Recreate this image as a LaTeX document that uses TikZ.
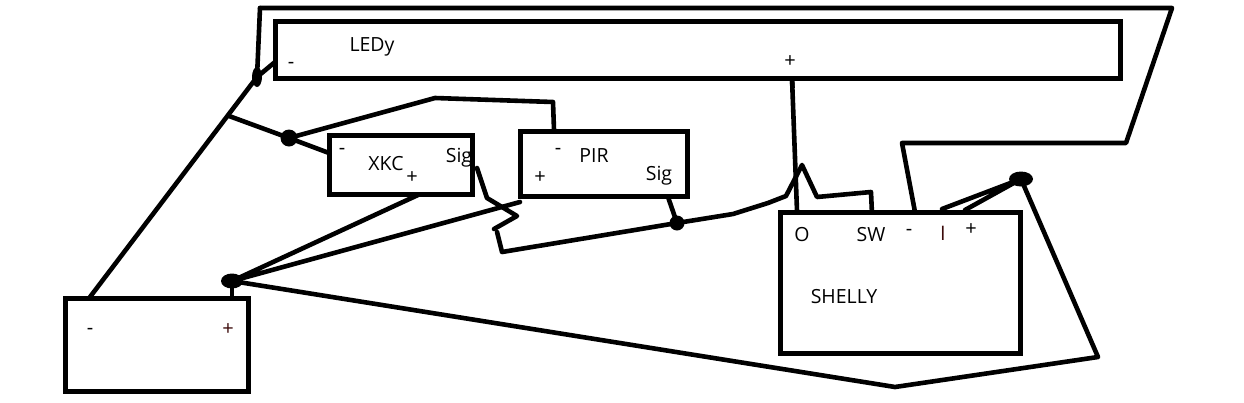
\documentclass[tikz,border=0pt]{standalone}
\usepackage{fontspec}
\setmainfont{Open Sans}
\usetikzlibrary{shapes.geometric}
\tikzset{
  x=1pt,y=-1pt,
  box/.style={draw=black,line width=5pt,fill=white,rectangle,inner sep=0pt,outer sep=0pt},
  wire/.style={draw=black,line width=4.6pt,line join=round,line cap=round},
  dotn/.style={circle,fill=black,inner sep=0pt,outer sep=0pt,minimum size=#1},
  blobn/.style={ellipse,fill=black,inner sep=0pt,outer sep=0pt,minimum width=#1,minimum height=15pt},
  lab/.style={inner sep=0pt,outer sep=0pt,text=black,font=\fontsize{19.5}{21}\selectfont},
  pin/.style={inner sep=0pt,outer sep=0pt,text=black,font=\fontsize{20}{21}\selectfont},
}
\definecolor{darkpin}{RGB}{60,10,10}
\begin{document}
\begin{tikzpicture}
\useasboundingbox (0,0) rectangle (1244,402);
% named routing points
\coordinate (a1) at (260,8);
\coordinate (a2) at (1172,8);
\coordinate (a3) at (1126,143);
\coordinate (a4) at (902,143);
\coordinate (a5) at (915,212);
\coordinate (b1) at (275,62);
\coordinate (b2) at (90,297);
\coordinate (c1) at (229,116);
\coordinate (d1) at (329,153);
\coordinate (d2) at (435,98);
\coordinate (d3) at (553,102);
\coordinate (d4) at (554,130);
\coordinate (e1) at (418,195);
\coordinate (e2) at (520,202);
\coordinate (e3) at (232,298);
\coordinate (f1) at (895,387);
\coordinate (f2) at (1098,357);
\coordinate (g1) at (942,209);
\coordinate (g2) at (965,210);
\coordinate (h1) at (477,168);
\coordinate (h2) at (487,198);
\coordinate (h3) at (517,216);
\coordinate (h4) at (494,229);
\coordinate (h5) at (497,232);
\coordinate (h6) at (502,252);
\coordinate (i1) at (668,197);
\coordinate (j1) at (733,214);
\coordinate (j2) at (768,203);
\coordinate (j3) at (786,196);
\coordinate (j4) at (802,165);
\coordinate (j5) at (817,197);
\coordinate (j6) at (871,192);
\coordinate (j7) at (872,214);
\coordinate (k1) at (792,78);
\coordinate (k2) at (797,211);
% junctions
\node[ellipse,fill=black,inner sep=0pt,outer sep=0pt,minimum width=10pt,minimum height=20pt] (jled) at (257,77) {};
\node[dotn=17pt] (jneg) at (289,138) {};
\node[blobn=22pt] (jpos) at (232,281) {};
\node[dotn=15pt] (jsig) at (677,223) {};
\node[blobn=24pt] (jin) at (1021,179) {};
% wires
\draw[wire] (a1) -- (jled.center);
\draw[wire] (a1) -- (a2) -- (a3) -- (a4) -- (a5);
\draw[wire] (b1) -- (jled.center) -- (b2);
\draw[wire] (c1) -- (jneg.center) -- (d1);
\draw[wire] (jneg.center) -- (d2) -- (d3) -- (d4);
\draw[wire] (e1) -- (jpos.center) -- (e2);
\draw[wire] (jpos.center) -- (e3);
\draw[wire] (jpos.center) -- (f1) -- (f2) -- (jin.center);
\draw[wire] (g1) -- (jin.center) -- (g2);
\draw[wire] (h1) -- (h2) -- (h3) -- (h4);
\draw[wire] (h5) -- (h6) -- (jsig.center) -- (i1);
\draw[wire] (jsig.center) -- (j1) -- (j2) -- (j3) -- (j4) -- (j5) -- (j6) -- (j7);
\draw[wire] (k1) -- (k2);
% boxes
\node[box,minimum width=845pt,minimum height=57pt] (led) at (697.5,49.5) {};
\node[box,minimum width=143pt,minimum height=59pt] (xkc) at (400.5,164.5) {};
\node[box,minimum width=167pt,minimum height=65pt] (pir) at (603.5,163.5) {};
\node[box,minimum width=240pt,minimum height=141pt] (shelly) at (900.5,282.5) {};
\node[box,minimum width=183pt,minimum height=93pt] (batt) at (156.5,344.5) {};
% wire ends that overlap box edges
\draw[wire,line cap=butt] (k1) -- ++(0.5,10);
\draw[wire,line cap=butt] (e3) -- ++(0,3);
% labels
\node[lab] (tled) at (372,47) {LEDy};
\node[pin] (tledm) at (291,65) {-};
\node[pin] (tledp) at (790,62) {+};
\node[lab] (txkc) at (386,164) {XKC};
\node[pin] (txm) at (342,151) {-};
\node[pin] (txp) at (412,178) {+};
\node[lab] (txs) at (459,158) {Sig};
\node[lab] (tpir) at (594,156) {PIR};
\node[pin] (tpm) at (558,151) {-};
\node[pin] (tpp) at (540,178) {+};
\node[lab] (tps) at (659,176) {Sig};
\node[lab] (to) at (802,235) {O};
\node[lab] (tsw) at (871,235) {SW};
\node[pin] (tsm) at (909,232) {-};
\node[pin,text=darkpin] (tsi) at (943,233) {I};
\node[pin] (tsp) at (971,230) {+};
\node[lab] (tshelly) at (844,297) {SHELLY};
\node[pin] (tbm) at (90,331) {-};
\node[pin,text=darkpin] (tbp) at (228,330) {+};
\end{tikzpicture}
\end{document}
